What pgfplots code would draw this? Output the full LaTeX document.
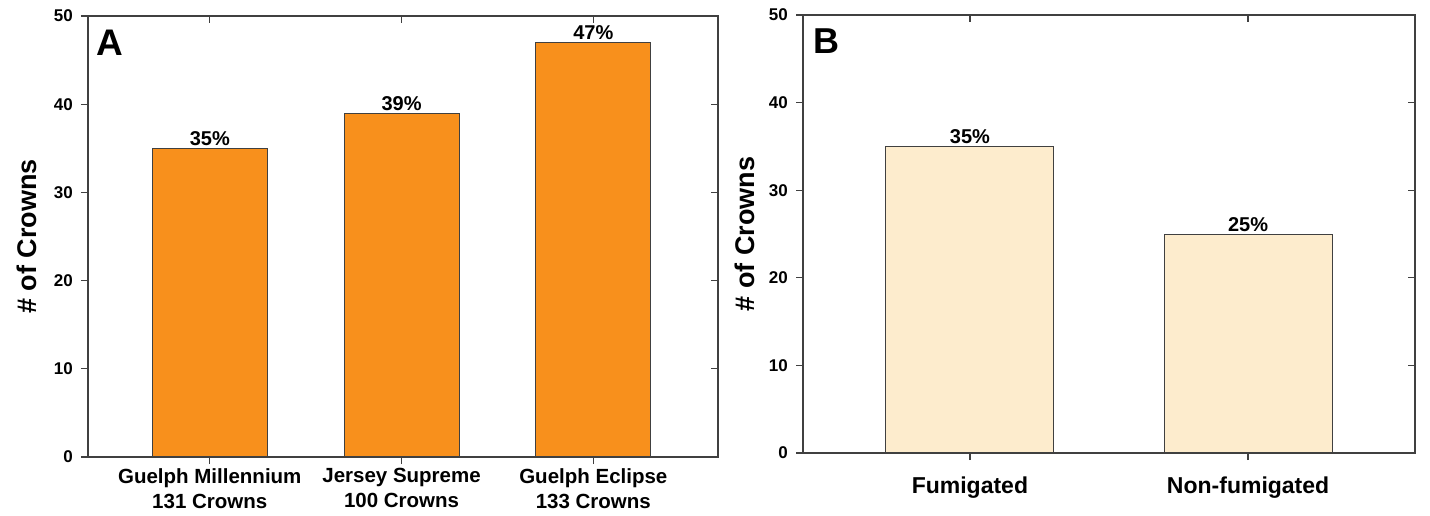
\documentclass[border=0pt]{standalone}
\usepackage{fontspec}
\setmainfont{Liberation Sans}
\usepackage{pgfplots}
\pgfplotsset{compat=1.18}
\definecolor{axgray}{HTML}{404040}
\definecolor{barorange}{HTML}{F8901C}
\definecolor{barpeach}{HTML}{FDECCD}
\begin{document}
\begin{tikzpicture}
\path[use as bounding box] (0pt,0pt) rectangle (1430pt,-516pt);
\pgfplotsset{
  common/.style={
    scale only axis, ymin=0, ymax=50, ytick={0,10,...,50},
    axis line style={axgray, line width=1.4pt},
    tick style={axgray, line width=1.3pt},
    major tick length=7pt,
    /pgf/number format/assume math mode=true,
    yticklabel style={font=\fontsize{17}{19}\selectfont\bfseries, inner sep=1pt, xshift=-7pt},
  },
  overlayax/.style={
    common, tick align=inside, xtick pos=top, ytick pos=right,
    xticklabels={}, yticklabels={},
  },
  mainax/.style={
    common, tick align=outside, xtick pos=bottom, ytick pos=left,
    ylabel={\# of Crowns},
    every axis y label/.style={rotate=90, anchor=center, font=\fontsize{27}{30}\selectfont\bfseries},
    nodes near coords={\pgfplotspointmeta},
    point meta=explicit symbolic,
    every node near coord/.style={font=\fontsize{20}{22}\selectfont\bfseries, inner sep=2pt, anchor=south, black},
  }
}
% Panel A
\begin{axis}[mainax, at={(88pt,-457pt)}, anchor=south west, width=630pt, height=441pt,
  xmin=-0.635, xmax=2.65, xtick={0,1,2},
  xticklabels={{Guelph Millennium\\131 Crowns},{Jersey Supreme\\100 Crowns},{Guelph Eclipse\\133 Crowns}},
  xticklabel style={align=center, font=\fontsize{20.5}{25}\selectfont\bfseries, inner sep=1pt, yshift=-3pt},
  y label style={at={(axis description cs:-0.097,0.5)}}]
\addplot[ybar, bar width=115pt, fill=barorange, draw=black!75, line width=0.9pt]
  coordinates {(0,35) [35\%] (1,39) [39\%] (2,47) [47\%]};
\node[anchor=north west, inner sep=0pt, font=\fontsize{37}{40}\selectfont\bfseries] at (axis description cs:0.013,0.968) {A};
\end{axis}
\begin{axis}[overlayax, at={(88pt,-457pt)}, anchor=south west, width=630pt, height=441pt,
  xmin=-0.635, xmax=2.65, xtick={0,1,2}]
\addplot[draw=none] coordinates {(0,0)};
\end{axis}
% Panel B
\begin{axis}[mainax, at={(803pt,-453pt)}, anchor=south west, width=612pt, height=438pt,
  xmin=-0.6, xmax=1.6, xtick={0,1},
  xticklabels={Fumigated,Non-fumigated},
  xticklabel style={font=\fontsize{23}{25}\selectfont\bfseries, inner sep=1pt, yshift=-16pt},
  y label style={at={(axis description cs:-0.095,0.5)}}]
\addplot[ybar, bar width=168pt, fill=barpeach, draw=black!75, line width=0.9pt]
  coordinates {(0,35) [35\%] (1,25) [25\%]};
\node[anchor=north west, inner sep=0pt, font=\fontsize{36}{40}\selectfont\bfseries] at (axis description cs:0.016,0.970) {B};
\end{axis}
\begin{axis}[overlayax, at={(803pt,-453pt)}, anchor=south west, width=612pt, height=438pt,
  xmin=-0.6, xmax=1.6, xtick={0,1}]
\addplot[draw=none] coordinates {(0,0)};
\end{axis}
\end{tikzpicture}
\end{document}
